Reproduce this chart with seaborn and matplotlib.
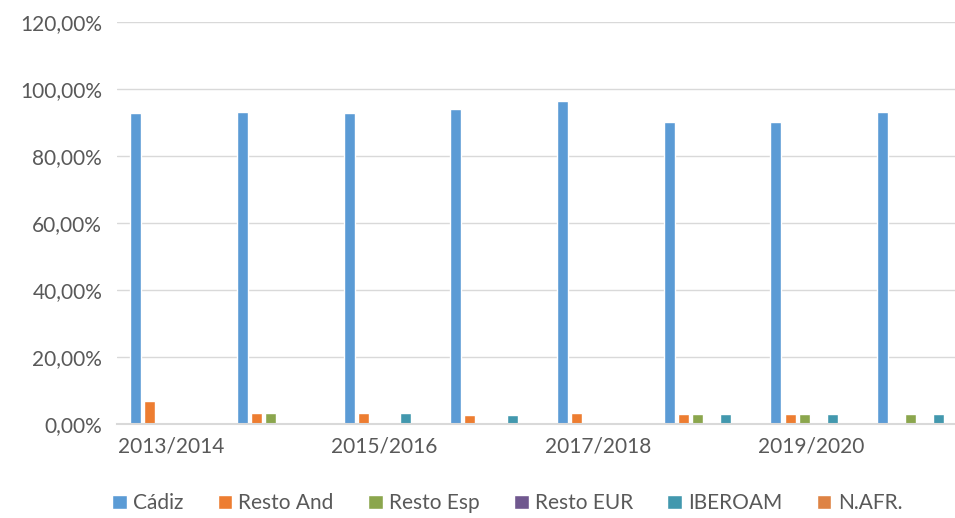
import pandas as pd
import numpy as np
import matplotlib.pyplot as plt
import matplotlib.ticker as mticker
import seaborn as sns

years = ["2013/2014", "2014/2015", "2015/2016", "2016/2017",
         "2017/2018", "2018/2019", "2019/2020", "2020/2021"]
series = ["Cádiz", "Resto And", "Resto Esp", "Resto EUR", "IBEROAM", "N.AFR."]

cadiz     = [92.8, 93.0, 92.7, 94.0, 96.4, 90.3, 90.3, 93.2]
resto_and = [7.0, 3.3, 3.3, 2.8, 3.3, 3.0, 3.0, 0.0]
resto_esp = [0.0, 3.3, 0.0, 0.0, 0.0, 3.0, 3.0, 3.0]
resto_eur = [0.0, 0.0, 0.0, 0.0, 0.0, 0.0, 0.0, 0.0]
iberoam   = [0.0, 0.0, 3.3, 2.8, 0.0, 3.0, 3.0, 3.0]
n_afr     = [0.0, 0.0, 0.0, 0.0, 0.0, 0.0, 0.0, 0.0]

colors = ["#5B9BD5", "#ED7D31", "#8BA64D", "#70588F", "#4298AE", "#DE8344"]

rows = []
for name, vals in zip(series, [cadiz, resto_and, resto_esp, resto_eur, iberoam, n_afr]):
    for y, v in zip(years, vals):
        rows.append({"curso": y, "origen": name, "valor": v})
df = pd.DataFrame(rows)

sns.set_theme(style="white")
plt.rcParams["font.family"] = ["Lato", "DejaVu Sans"]

fig = plt.figure(figsize=(9.55, 5.18), dpi=100)
ax = fig.add_axes([0.123, 0.1815, 0.885, 0.776])

sns.barplot(data=df, x="curso", y="valor", hue="origen", order=years,
            hue_order=series, palette=colors, width=0.79, gap=0.22,
            saturation=1, ax=ax, errorbar=None)

ax.set_ylim(0, 120)
ax.set_xlim(-0.5, 7.42)
ax.yaxis.set_major_locator(mticker.MultipleLocator(20))
ax.yaxis.set_major_formatter(mticker.FuncFormatter(
    lambda v, p: f"{v:.2f}".replace(".", ",") + "%"))
ax.grid(axis="y", color="#D9D9D9", linewidth=1)
ax.set_axisbelow(True)
for s in ["left", "top", "right"]:
    ax.spines[s].set_visible(False)
ax.spines["bottom"].set_color("#D9D9D9")
ax.spines["bottom"].set_linewidth(1.5)

ax.set_xticks(range(len(years)))
ax.set_xticklabels([y if i % 2 == 0 else "" for i, y in enumerate(years)])
ax.tick_params(axis="both", length=0, labelsize=15, colors="#595959", pad=9)
ax.tick_params(axis="y", pad=11)
ax.set_xlabel("")
ax.set_ylabel("")

ax.legend(loc="upper center", bbox_to_anchor=(0.461, -0.172), ncol=6,
          frameon=False, fontsize=15, handlelength=0.7, handleheight=0.7,
          handletextpad=0.3, columnspacing=1.65, labelcolor="#595959",
          borderaxespad=0, borderpad=0)

plt.savefig("out.png", dpi=100)
plt.close()
